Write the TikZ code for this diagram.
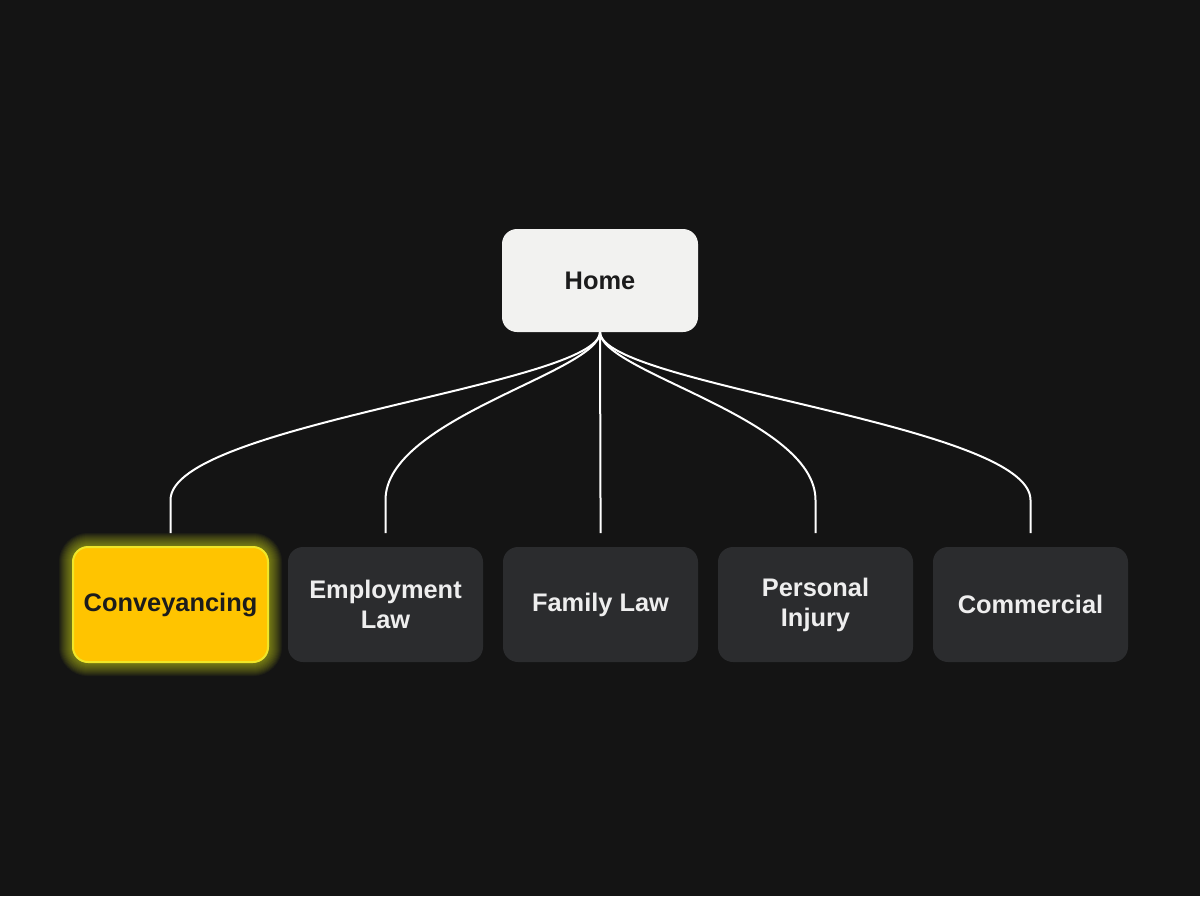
\documentclass[tikz,border=0pt]{standalone}
\usepackage{fontspec}
\setmainfont{Liberation Sans}
\usetikzlibrary{positioning}
\definecolor{mybg}{RGB}{20,20,20}
\definecolor{myhome}{RGB}{242,242,240}
\definecolor{mydark}{RGB}{43,44,46}
\definecolor{myyellow}{RGB}{255,196,0}
\definecolor{myrim}{RGB}{240,230,40}
\definecolor{myglow}{RGB}{215,225,30}
\definecolor{myink}{RGB}{28,28,28}
\definecolor{mytext}{RGB}{238,238,238}
\pgfdeclarelayer{bg}
\pgfdeclarelayer{glow}
\pgfsetlayers{bg,glow,main}

\begin{document}
\begin{tikzpicture}[x=0.5pt,y=-0.5pt,font=\fontsize{12.7}{15}\selectfont\bfseries,
  box/.style={rounded corners=7.5pt,minimum width=97.5pt,minimum height=57.5pt,align=center,inner sep=0pt,outer sep=0pt},
  leaf/.style={box,fill=mydark,text=mytext},
  hit/.style={box,fill=myyellow,draw=myrim,line width=1pt,text=myink},
  link/.style={draw=white,line width=1pt}]

  \useasboundingbox (0,0) rectangle (1200,896);
  \begin{pgfonlayer}{bg}
    \fill[mybg] (0,0) rectangle (1200,896);
  \end{pgfonlayer}

  \node[box,fill=myhome,text=myink,minimum width=98pt,minimum height=51.5pt] (home) at (600,280.5) {Home};

  % practice areas
  \node[hit] (conv) at (170.5,604.5) {\raisebox{-1pt}{Conveyancing}};
  \node[leaf,right=10pt of conv] (empl) {Employment\\Law};
  \node[leaf,right=10pt of empl] (fam) {\raisebox{-1pt}{Family Law}};
  \node[leaf,right=10pt of fam] (pers) {Personal\\Injury};
  \node[leaf,right=10pt of pers] (comm) {\raisebox{-1pt}{Commercial}};

  % glow round the selected one
  \begin{pgfonlayer}{glow}
    \foreach \w in {1,2,...,14}
      \draw[myglow,opacity=0.05,line width=\w pt,rounded corners=7.5pt] (conv.south west) rectangle (conv.north east);
  \end{pgfonlayer}

  % links from home
  \foreach \n/\a/\b in {conv/53/76,empl/40/82,fam/0/0,pers/40/82,comm/53/76} {
    \coordinate (\n-bend) at ([yshift=23.5pt]\n.north);
    \coordinate (\n-end) at ([yshift=7pt]\n.north);
    \draw[link] (home.south) .. controls +(0,\a) and +(0,-\b) .. (\n-bend) -- (\n-end);
  }

\end{tikzpicture}
\end{document}
